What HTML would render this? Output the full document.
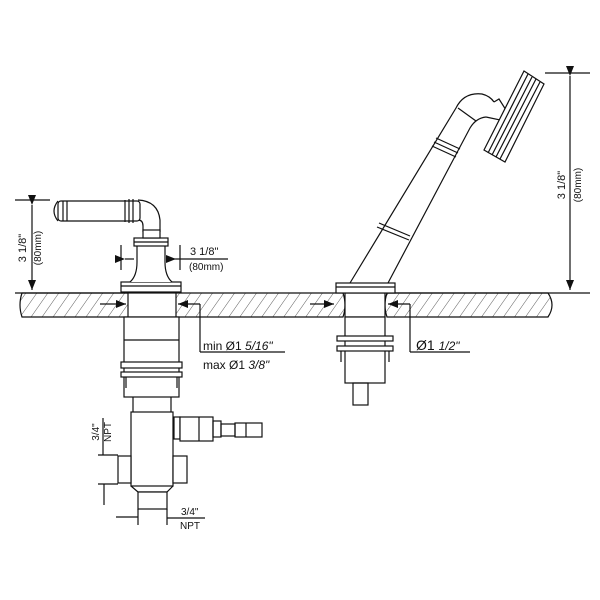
<!DOCTYPE html>
<html><head><style>
html,body{margin:0;padding:0;background:#fff;}
svg{display:block;}
text{font-family:"Liberation Sans",sans-serif;fill:#111;}
</style></head><body>
<svg width="600" height="600" viewBox="0 0 600 600" xmlns="http://www.w3.org/2000/svg">
<defs>
<pattern id="h" width="9" height="9" patternUnits="userSpaceOnUse" patternTransform="rotate(35)">
<line x1="0" y1="0" x2="0" y2="9" stroke="#333" stroke-width="0.8"/>
</pattern>
<marker id="a" markerWidth="10" markerHeight="8" refX="10" refY="4" orient="auto" markerUnits="userSpaceOnUse"><path d="M0,0 L10,4 L0,8z" fill="#111"/></marker>
</defs>
<g stroke="#111" stroke-width="1.2" fill="none">
<path d="M22,293 H130 Q134,305 130,317 H22 Q18,305 22,293z" fill="url(#h)"/>
<path d="M176,293 H343 Q347,305 343,317 H176 Q172,305 176,293z" fill="url(#h)"/>
<path d="M387,293 H548 Q556,305 548,317 H387 Q383,305 387,293z" fill="url(#h)"/>
<line x1="15" y1="293" x2="130" y2="293"/>
<line x1="387" y1="293" x2="590" y2="293"/>

<rect x="121" y="282" width="60" height="10" fill="#fff"/>
<line x1="121" y1="286" x2="181" y2="286"/>
<path d="M130,282 Q137,276 137,262 V245 H165 V262 Q165,276 172,282" fill="#fff"/>
<rect x="134" y="238" width="34" height="8" fill="#fff"/>
<line x1="134" y1="242" x2="168" y2="242"/>
<path d="M143,232 V226 Q143,220 138,220 M160,232 V220 Q158,201 138,200" />
<rect x="143" y="230" width="17" height="8" fill="#fff"/>
<rect x="58" y="201" width="82" height="20" rx="3" fill="#fff"/>
<path d="M58,201 Q50,211 58,221"/>
<line x1="63" y1="201" x2="63" y2="221"/><line x1="67" y1="201" x2="67" y2="221"/>
<line x1="125" y1="200" x2="125" y2="222"/><line x1="129" y1="199" x2="129" y2="223"/><line x1="133" y1="199" x2="133" y2="223"/>
<rect x="128" y="293" width="48" height="24" fill="#fff"/>
<rect x="124" y="317" width="55" height="80" fill="#fff"/>
<line x1="124" y1="340" x2="179" y2="340"/>
<rect x="121" y="362" width="61" height="6" fill="#fff"/>
<rect x="121" y="372" width="61" height="5" fill="#fff"/>
<line x1="126" y1="377" x2="126" y2="388"/><line x1="177" y1="377" x2="177" y2="388"/>
<line x1="133" y1="397" x2="133" y2="412"/><line x1="171" y1="397" x2="171" y2="412"/>
<rect x="131" y="412" width="42" height="74" fill="#fff"/>
<rect x="118" y="456" width="13" height="27" fill="#fff"/>
<rect x="173" y="456" width="14" height="27" fill="#fff"/>
<path d="M131,486 L138,492 H167 L173,486"/>
<rect x="138" y="492" width="29" height="17" fill="#fff"/>
<rect x="174" y="417" width="6" height="22"/>
<rect x="180" y="417" width="33" height="24" fill="#fff"/>
<line x1="199" y1="417" x2="199" y2="441"/>
<rect x="213" y="421" width="8" height="16"/>
<rect x="221" y="424" width="14" height="12"/>
<rect x="235" y="423" width="27" height="14"/>
<line x1="246" y1="423" x2="246" y2="437"/>

<rect x="345" y="293" width="40" height="24" fill="#fff"/>
<rect x="345" y="317" width="40" height="66" fill="#fff"/>
<rect x="337" y="336" width="56" height="5" fill="#fff"/>
<rect x="337" y="346" width="56" height="5" fill="#fff"/>
<line x1="341" y1="351" x2="341" y2="362"/><line x1="389" y1="351" x2="389" y2="362"/>
<rect x="353" y="383" width="15" height="22"/>
<rect x="336" y="283" width="59" height="10" fill="#fff"/>
<line x1="336" y1="287" x2="395" y2="287"/>
<!-- wand -->
<path d="M350,283 L456,108 Q464,92 482,94 Q490,96 494,102 M388,283 L470,128 Q476,118 486,117" fill="#fff"/>
<line x1="377" y1="227" x2="409" y2="240"/><line x1="379" y1="223" x2="410" y2="236"/>
<line x1="436" y1="138" x2="460" y2="149"/><line x1="434" y1="142" x2="458" y2="153"/><line x1="432" y1="146" x2="456" y2="157"/>
<line x1="458" y1="108" x2="476" y2="121"/>
<path d="M494,102 L499,99 L506,110 L500,120 L486,117"/>
<path d="M524,71 L544,84 L505,162 L484,150z" fill="#fff"/>
<line x1="528" y1="74" x2="488" y2="153"/><line x1="532" y1="77" x2="492" y2="155"/><line x1="536" y1="79" x2="496" y2="157"/><line x1="540" y1="82" x2="500" y2="159"/>

<line x1="15" y1="200" x2="50" y2="200"/>
<line x1="32" y1="205" x2="32" y2="290" marker-start="url(#a)" marker-end="url(#a)"/>
<line x1="121" y1="245" x2="121" y2="270"/><line x1="180" y1="245" x2="180" y2="270"/>
<line x1="125" y1="259" x2="134" y2="259" marker-start="url(#a)"/>
<line x1="176" y1="259" x2="228" y2="259"/>
<line x1="167" y1="259" x2="176" y2="259" marker-end="url(#a)"/>
<line x1="100" y1="304" x2="126" y2="304" marker-end="url(#a)"/>
<line x1="200" y1="304" x2="178" y2="304" marker-end="url(#a)"/>
<line x1="200" y1="304" x2="200" y2="352"/><line x1="200" y1="352" x2="285" y2="352"/>
<line x1="310" y1="304" x2="334" y2="304" marker-end="url(#a)"/>
<line x1="410" y1="304" x2="388" y2="304" marker-end="url(#a)"/>
<line x1="410" y1="304" x2="410" y2="352"/><line x1="410" y1="352" x2="470" y2="352"/>
<line x1="545" y1="73" x2="590" y2="73"/>
<line x1="570" y1="76" x2="570" y2="290" marker-start="url(#a)" marker-end="url(#a)"/>
<line x1="103" y1="418" x2="103" y2="455"/><line x1="98" y1="455" x2="118" y2="455"/>
<line x1="98" y1="484" x2="118" y2="484"/><line x1="104" y1="484" x2="104" y2="505"/>
<line x1="138" y1="509" x2="138" y2="525"/><line x1="167" y1="509" x2="167" y2="525"/>
<line x1="116" y1="517" x2="138" y2="517"/><line x1="167" y1="518" x2="205" y2="518"/>
</g>
<g font-size="11">
<text transform="translate(26,248) rotate(-90)" text-anchor="middle">3 1/8"</text>
<text transform="translate(41,248) rotate(-90)" text-anchor="middle" font-size="10">(80mm)</text>
<text x="190" y="255">3 1/8"</text>
<text x="189" y="270" font-size="10">(80mm)</text>
<text x="203" y="350" font-size="12">min Ø1 <tspan font-style="italic">5/16"</tspan></text>
<text x="203" y="369" font-size="12">max Ø1 <tspan font-style="italic">3/8"</tspan></text>
<text x="416" y="350" font-size="14">Ø1 <tspan font-style="italic" font-size="12">1/2"</tspan></text>
<text transform="translate(565,185) rotate(-90)" text-anchor="middle">3 1/8"</text>
<text transform="translate(581,185) rotate(-90)" text-anchor="middle" font-size="10">(80mm)</text>
<text transform="translate(99,432) rotate(-90)" text-anchor="middle" font-size="10">3/4"</text>
<text transform="translate(111,432) rotate(-90)" text-anchor="middle" font-size="10">NPT</text>
<text x="181" y="515" font-size="10">3/4"</text>
<text x="180" y="529" font-size="10">NPT</text>
</g>
</svg>
</body></html>
